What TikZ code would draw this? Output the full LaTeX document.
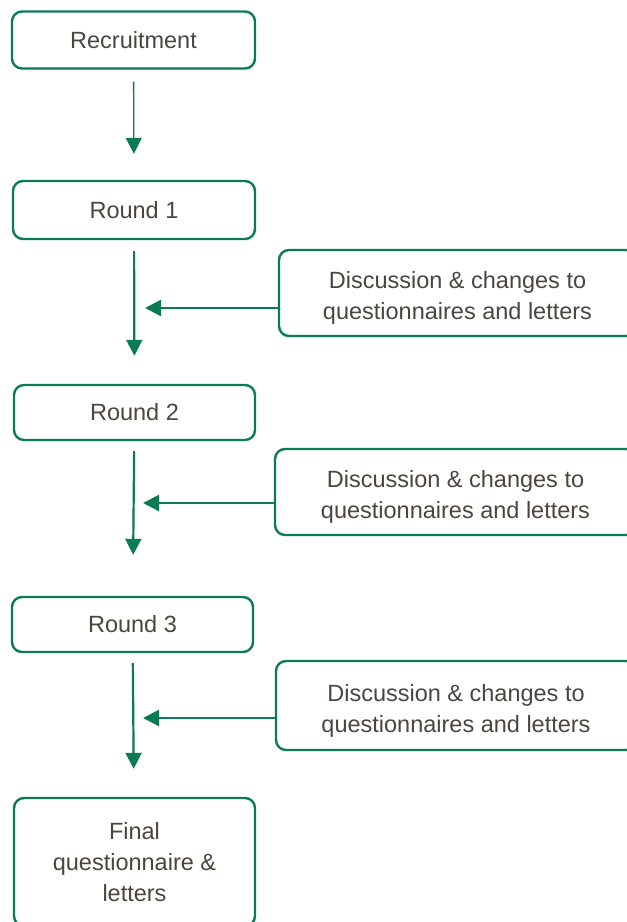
\documentclass[tikz,border=0pt]{standalone}
\usepackage{fontspec}
\setmainfont{Liberation Sans}
\usetikzlibrary{arrows.meta}
\definecolor{boxgreen}{HTML}{0B7B52}
\definecolor{boxtext}{HTML}{4A453E}
\newcommand{\CHG}{\begin{tabular}{@{}c@{}}\rule{0pt}{32pt}Discussion \& changes to\\questionnaires and letters\end{tabular}}

\begin{document}
\begin{tikzpicture}[x=1pt, y=-1pt,
    stage/.style={draw=boxgreen, line width=2.4pt, rounded corners=10pt, inner sep=0pt,
      text=boxtext, align=center, font=\fontsize{23.5}{31}\selectfont},
    arr/.style={draw=boxgreen, line width=2.2pt, -{Triangle[width=16pt,length=16pt]}}]

  \useasboundingbox (0,0) rectangle (627,922);

  \node[stage, minimum width=243pt, minimum height=57pt] (rec) at (133.5, 40) {Recruitment};
  \node[stage, minimum width=242pt, minimum height=58pt] (r1) at (134, 210) {Round 1};
  \node[stage, minimum width=241pt, minimum height=55pt] (r2) at (134.5, 412.5) {Round 2};
  \node[stage, minimum width=241pt, minimum height=55pt] (r3) at (132.5, 624.5) {Round 3};
  \node[stage, minimum width=241pt, minimum height=128pt] (fin) at (134.5, 862)
    {Final\\questionnaire \&\\letters};

  \node[stage, minimum width=357pt, minimum height=86pt] (d1) at (457.5, 293) {\CHG};
  \node[stage, minimum width=361pt, minimum height=86pt] (d2) at (455.5, 492) {\CHG};
  \node[stage, minimum width=360pt, minimum height=89pt] (d3) at (456, 705.5) {\CHG};

  \coordinate (m1) at (145, 308);
  \coordinate (m2) at (143, 503);
  \coordinate (m3) at (143, 718);

  \draw[arr, line width=1.3pt, shorten <=12pt, shorten >=26pt] (rec) -- (r1); %% rec->r1
  \draw[arr, shorten <=11pt, shorten >=28pt] (r1) -- (r2); %% r1->r2
  \draw[arr, shorten <=10pt, shorten >=41pt] (r2) -- (r3); %% r2->r3
  \draw[arr, shorten <=10pt, shorten >=28pt] (r3) -- (fin); %% r3->fin

  \draw[arr] (d1.west |- m1) -- (m1);
  \draw[arr] (d2.west |- m2) -- (m2);
  \draw[arr] (d3.west |- m3) -- (m3);

\end{tikzpicture}
\end{document}
